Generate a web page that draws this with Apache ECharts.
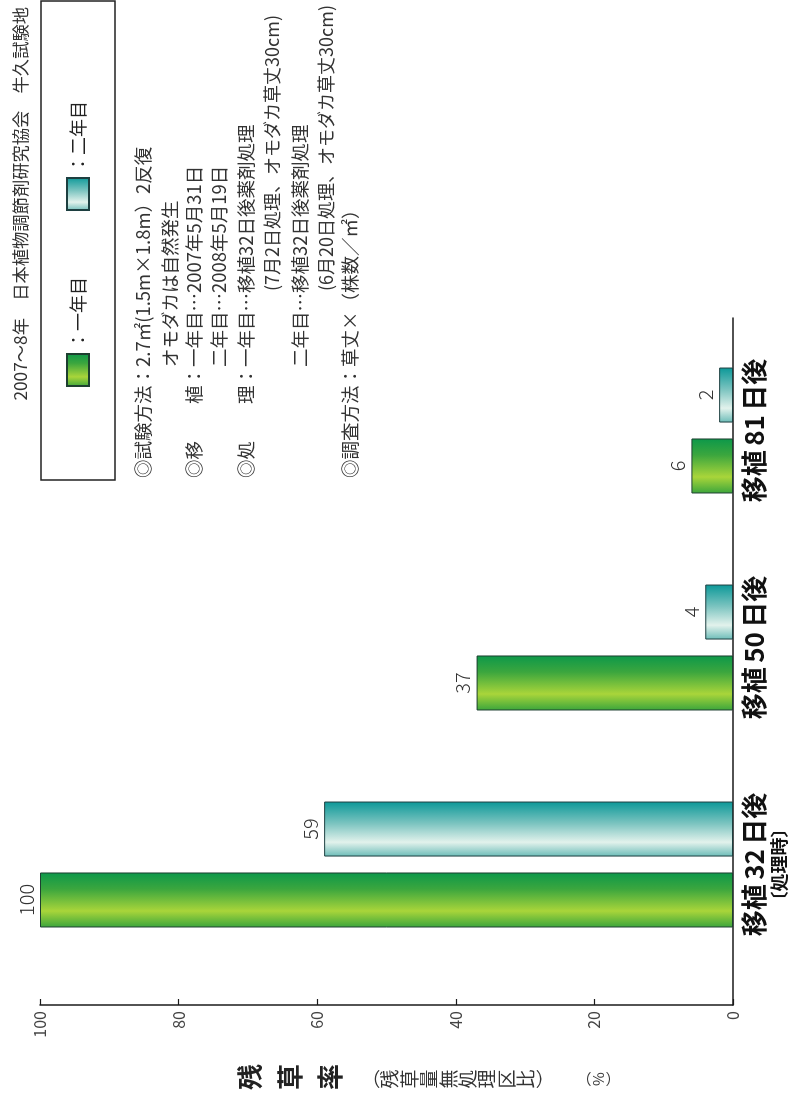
<!DOCTYPE html>
<html><head><meta charset="utf-8">
<script src="https://cdn.jsdelivr.net/npm/echarts@6/dist/echarts.min.js"></script>
<style>
html,body{margin:0;padding:0;width:793px;height:1101px;overflow:hidden;background:#fff;}
#wrap{position:absolute;left:0;top:1101px;width:1101px;height:793px;transform-origin:0 0;transform:rotate(-90deg);}
#chart{width:1101px;height:793px;}
</style></head><body>
<div id="wrap"><div id="chart"></div></div>
<script>
// ---- data ----
const categories = ['移植32日後', '移植50日後', '移植81日後'];
const categoryNotes = ['〔処理時〕', '', ''];
const seriesNames = ['一年目', '二年目'];
const year1 = [100, 37, 6];
const year2 = [59, 4, 2];
const valueMin = 0, valueMax = 100, valueInterval = 20;
const headerText = '2007～8年　日本植物調節剤研究協会　牛久試験地';
const noteLines = [
  '◎試験方法：2.7㎡(1.5m×1.8m）2反復',
  'オモダカは自然発生',
  '◎移　　植：一年目…2007年5月31日',
  '二年目…2008年5月19日',
  '◎処　　理：一年目…移植32日後薬剤処理',
  '(7月2日処理、オモダカ草丈30cm)',
  '二年目…移植32日後薬剤処理',
  '(6月20日処理、オモダカ草丈30cm)',
  '◎調査方法：草丈×（株数／㎡）'
];
const axisTitle = '残草率';
const axisTitleSub = '︵残草量無処理区比︶';
const axisUnit = '︵%︶';

// ---- style ----
const FONT = '"Noto Sans CJK JP", "Noto Sans CJK SC", sans-serif';
// small space between ideographs and digits in the category labels
function aki(s, sp) {
  return s.replace(/([\u4e00-\u9fff])(?=[0-9])/g, '$1' + sp)
          .replace(/([0-9])(?=[\u4e00-\u9fff])/g, '$1' + sp);
}
const greenGrad = new echarts.graphic.LinearGradient(0, 0, 1, 0, [
  {offset: 0, color: '#3aa53c'},
  {offset: 0.3, color: '#a9d53a'},
  {offset: 0.7, color: '#3ba63e'},
  {offset: 1, color: '#0c984a'}
]);
const tealGrad = new echarts.graphic.LinearGradient(0, 0, 1, 0, [
  {offset: 0, color: '#6bbcb8'},
  {offset: 0.26, color: '#e2f2ec'},
  {offset: 0.6, color: '#7cc4c0'},
  {offset: 1, color: '#0b9898'}
]);

const chart = echarts.init(document.getElementById('chart'));

const noteX = [623, 734, 623, 734, 623, 810, 734, 810, 623];
const noteY = [143, 170, 194, 219, 246, 272, 300, 326, 350];
const noteSize = [18.5, 18.5, 18.5, 18.5, 18.5, 18, 18.5, 18, 18.5];
const graphics = noteLines.map((t, i) => ({
  type: 'text', x: noteX[i], y: noteY[i],
  style: {text: t, fontSize: noteSize[i], fontFamily: FONT, fill: '#333', verticalAlign: 'middle', align: 'left'}
}));
graphics.push({
  type: 'text', x: 24, y: 230,
  style: {text: axisTitle.split('').join('\n'), fontSize: 26, fontWeight: 'bold', fontFamily: FONT,
          fill: '#222', lineHeight: 40, align: 'center', verticalAlign: 'top'}
});
graphics.push({
  type: 'text', x: 22, y: 361,
  style: {text: axisTitleSub.split('').join('\n'), fontSize: 19, fontFamily: FONT,
          fill: '#333', lineHeight: 19.4, align: 'center', verticalAlign: 'top'}
});
graphics.push({
  type: 'text', x: 22, y: 576,
  style: {text: axisUnit.split('').join('\n'), fontSize: 15, fontFamily: FONT,
          fill: '#333', lineHeight: 15, align: 'center', verticalAlign: 'top'}
});

const labelStyle = {show: true, position: 'top', distance: 4, fontSize: 20, color: '#333',
  fontFamily: FONT, fontWeight: 300};

chart.setOption({
  backgroundColor: '#fff',
  animation: false,
  textStyle: {fontFamily: FONT},
  title: {text: headerText, right: 2, top: 7,
    textStyle: {fontSize: 17.3, fontWeight: 'normal', color: '#333', fontFamily: FONT}},
  legend: {
    data: seriesNames, left: 621, top: 41, icon: 'rect',
    itemWidth: 32, itemHeight: 22, itemGap: 66,
    formatter: '：{name}',
    textStyle: {fontSize: 18, color: '#222', fontFamily: FONT},
    padding: [25, 100, 25, 93],
    borderColor: '#222', borderWidth: 1.5
  },
  grid: [
    {left: 128, right: 322, top: 40, bottom: 60},
    {left: 96, right: 318, top: 40, bottom: 60}
  ],
  xAxis: [
    {gridIndex: 0, type: 'category', data: categories,
     axisLine: {show: false}, axisTick: {show: false},
     axisLabel: {margin: 6, color: '#111', interval: 0,
       formatter: (v, i) => categoryNotes[i]
         ? '{a|' + aki(v, '\u2006') + '}\n{b|' + categoryNotes[i] + '}'
         : '{a|' + aki(v, '\u2006') + '}',
       rich: {
         a: {fontSize: 26, fontWeight: 'bold', color: '#111', fontFamily: FONT, lineHeight: 30},
         b: {fontSize: 18, fontWeight: 'bold', color: '#111', fontFamily: FONT, lineHeight: 20}
       }}},
    {gridIndex: 1, type: 'value', min: 0, max: 1,
     axisLine: {show: true, lineStyle: {color: '#1a1a1a', width: 1.5}},
     axisTick: {show: false}, axisLabel: {show: false}, splitLine: {show: false}}
  ],
  yAxis: [
    {gridIndex: 0, type: 'value', min: valueMin, max: valueMax, show: false, splitLine: {show: false}},
    {gridIndex: 1, type: 'value', min: valueMin, max: valueMax, interval: valueInterval,
     axisLine: {show: true, lineStyle: {color: '#1a1a1a', width: 1.5}},
     axisTick: {show: true, inside: true, length: 6, lineStyle: {color: '#1a1a1a', width: 1.2}},
     axisLabel: {fontSize: 16, color: '#444', margin: 6, fontFamily: FONT},
     splitLine: {show: false}}
  ],
  series: [
    {name: seriesNames[0], type: 'bar', xAxisIndex: 0, yAxisIndex: 0, data: year1,
     barWidth: 55, barGap: '29%',
     itemStyle: {color: greenGrad, borderColor: '#1d3f30', borderWidth: 1},
     label: labelStyle},
    {name: seriesNames[1], type: 'bar', xAxisIndex: 0, yAxisIndex: 0, data: year2,
     barWidth: 55, barGap: '29%',
     itemStyle: {color: tealGrad, borderColor: '#1d3f40', borderWidth: 1},
     label: labelStyle}
  ],
  graphic: graphics
});
</script>
</body></html>
